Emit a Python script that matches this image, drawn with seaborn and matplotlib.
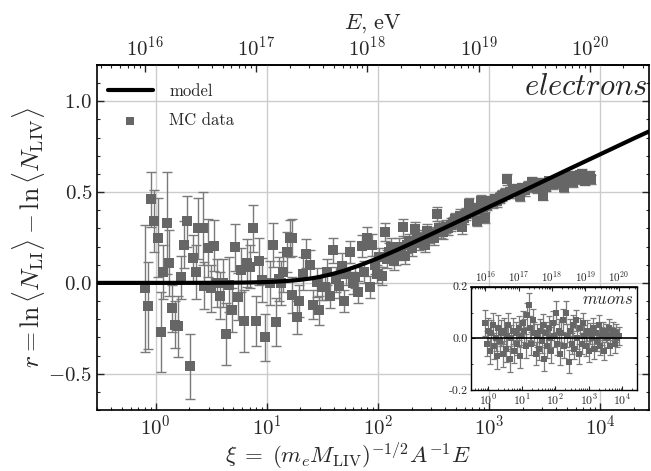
import matplotlib
matplotlib.use("Agg")
import matplotlib.pyplot as plt
import numpy as np
import pandas as pd
import seaborn as sns
from matplotlib.ticker import LogLocator, MultipleLocator, FuncFormatter, NullFormatter, FixedLocator

# ---------------- data ----------------
E_PER_XI = 1.25e16  # E [eV] corresponding to xi = 1
E_TICKS = [1e16, 1e17, 1e18, 1e19, 1e20]

MODEL_XI = [0.3, 1, 3, 5, 7, 10, 15, 20, 25, 30, 40, 50, 70, 100, 150, 200, 300, 500,
            700, 1000, 2000, 3000, 5000, 10000, 20000, 27300]
MODEL_R = [0.0, 0.0, 0.0004, 0.0012, 0.0023, 0.0047, 0.0101, 0.017, 0.0248, 0.033, 0.051,
           0.068, 0.099, 0.136, 0.183, 0.218, 0.268, 0.332, 0.374, 0.419, 0.506, 0.557,
           0.622, 0.709, 0.796, 0.834]

EL_XI = [0.81, 0.86, 0.91, 0.97, 1.04, 1.11, 1.17, 1.26, 1.33, 1.41,
         1.49, 1.60, 1.69, 1.81, 1.92, 2.03, 2.18, 2.30, 2.42, 2.65,
         2.73, 2.93, 3.14, 3.36, 3.58, 3.78, 4.05, 4.29, 4.59, 4.88,
         5.17, 5.53, 5.85, 6.23, 6.57, 7.05, 7.55, 7.97, 8.50, 9.10,
         9.64, 10.6, 11.4, 12.2, 12.9, 13.5, 14.0, 15.1, 16.0,
         16.7, 17.0, 18.5, 19.5, 21.3, 22.7, 24.4, 26.0, 28.0, 29.5,
         31.1, 33.0, 35.0, 37.0, 39.5, 42.0, 45.0, 47.0, 49.0, 52.0,
         55.7, 59.0, 62.0, 66.0, 71.0, 75.0, 79.0, 84.0, 88.0, 93.0,
         98.0, 103, 108, 115, 121, 126, 132, 138, 145,
         155, 162, 168, 174, 181, 190, 200, 214, 222, 235,
         250, 262, 273, 290, 305, 320, 336, 350, 368, 385,
         405, 425, 450, 472, 495, 520, 545, 565, 590, 615,
         651, 700, 735, 770, 810, 851, 880, 914, 950, 1000,
         1080, 1120, 1180, 1240, 1300, 1380, 1440, 1530, 1650, 1750,
         1870, 1980, 2100, 2250, 2410, 2550, 2700, 2880, 3070, 3250,
         3450, 3760, 3950, 4200, 4450, 4650, 4900, 5200, 5450, 5700,
         6000, 6250, 6520, 6800, 7000, 7230, 7600, 8000, 8300]
EL_R = [-0.03, -0.125, 0.46, 0.34, 0.25, -0.27, 0.06, 0.33, 0.11, -0.14,
        -0.23, -0.24, 0.03, 0.21, 0.34, -0.46, 0.135, 0.06, 0.30, 0.30,
        -0.015, 0.19, -0.03, 0.205, 0.0, -0.07, 0.0, -0.28, -0.01, -0.15,
        0.195, -0.075, 0.07, -0.21, 0.11, 0.09, 0.30, -0.21, 0.12, 0.015,
        -0.30, 0.0, 0.21, -0.215, 0.02, 0.0, 0.06, 0.17, 0.245,
        0.25, -0.066, -0.19, -0.10, 0.05, 0.16, 0.10, -0.12, 0.004, -0.15,
        -0.024, -0.024, 0.06, -0.07, 0.18, 0.02, -0.015, 0.095, -0.10, 0.05,
        0.17, 0.0, 0.03, -0.05, 0.205, 0.06, 0.25, -0.024, 0.21, 0.10,
        0.05, 0.14, 0.04, 0.28, 0.13, 0.17, 0.196, 0.12, 0.15,
        0.20, 0.17, 0.306, 0.15, 0.21, 0.23, 0.19, 0.297, 0.24, 0.22,
        0.25, 0.21, 0.287, 0.26, 0.27, 0.25, 0.38, 0.30, 0.29, 0.28,
        0.31, 0.30, 0.32, 0.33, 0.35, 0.34, 0.37, 0.306, 0.36, 0.38,
        0.434, 0.39, 0.41, 0.342, 0.40, 0.452, 0.42, 0.36, 0.43, 0.45,
        0.443, 0.46, 0.45, 0.47, 0.48, 0.49, 0.571, 0.50, 0.516, 0.50,
        0.48, 0.52, 0.51, 0.53, 0.553, 0.54, 0.52, 0.55, 0.48, 0.53,
        0.56, 0.544, 0.55, 0.57, 0.56, 0.526, 0.58, 0.56, 0.59, 0.553,
        0.57, 0.58, 0.593, 0.60, 0.59, 0.562, 0.58, 0.59, 0.571]
EL_ERR = [0.35, 0.24, 0.15, 0.17, 0.22, 0.22, 0.15, 0.28, 0.18, 0.13,
          0.13, 0.17, 0.12, 0.13, 0.14, 0.18, 0.13, 0.15, 0.17, 0.20,
          0.13, 0.16, 0.13, 0.14, 0.13, 0.13, 0.13, 0.17, 0.15, 0.12,
          0.13, 0.13, 0.12, 0.17, 0.13, 0.12, 0.13, 0.14, 0.13, 0.12,
          0.13, 0.12, 0.12, 0.13, 0.12, 0.12, 0.11, 0.11, 0.10,
          0.10, 0.10, 0.09, 0.09, 0.09, 0.08, 0.08, 0.08, 0.08, 0.08,
          0.07, 0.07, 0.07, 0.07, 0.07, 0.07, 0.07, 0.07, 0.06, 0.06,
          0.06, 0.06, 0.06, 0.06, 0.06, 0.06, 0.06, 0.06, 0.06, 0.05,
          0.05, 0.05, 0.05, 0.05, 0.05, 0.05, 0.05, 0.05, 0.05,
          0.045, 0.045, 0.045, 0.045, 0.045, 0.04, 0.04, 0.04, 0.04, 0.04,
          0.04, 0.04, 0.04, 0.04, 0.04, 0.04, 0.04, 0.04, 0.04, 0.04,
          0.035, 0.035, 0.035, 0.035, 0.035, 0.035, 0.035, 0.035, 0.035, 0.035,
          0.035, 0.03, 0.03, 0.03, 0.03, 0.03, 0.03, 0.03, 0.03, 0.03,
          0.03, 0.03, 0.03, 0.03, 0.03, 0.03, 0.03, 0.03, 0.03, 0.03,
          0.03, 0.03, 0.03, 0.03, 0.03, 0.025, 0.025, 0.025, 0.025, 0.025,
          0.025, 0.025, 0.025, 0.025, 0.025, 0.025, 0.025, 0.025, 0.025, 0.025,
          0.025, 0.025, 0.025, 0.025, 0.025, 0.025, 0.025, 0.025, 0.025]

MU_XI = [0.8, 0.9, 1.0, 1.1, 1.2, 1.35, 1.5, 1.65, 1.8, 2.0,
         2.2, 2.45, 2.7, 3.0, 3.3, 3.65, 4.0, 4.4, 4.9, 5.4,
         6.0, 6.6, 7.3, 8.0, 8.9, 9.8, 10.8, 12, 13.2, 14.6,
         16, 17.7, 19.5, 21.5, 23.7, 26, 29, 32, 35, 39,
         43, 47, 52, 58, 64, 70, 77, 85, 94, 104,
         115, 127, 140, 154, 170, 188, 207, 229, 252, 278,
         307, 339, 374, 413, 456, 503, 555, 612, 676, 746,
         823, 909, 1000, 1110, 1220, 1350, 1490, 1640, 1810, 2000,
         2210, 2440, 2690, 2970, 3280, 3620, 4000, 4410, 4870, 5370,
         5930, 6550, 7230, 7980]
MU_R = [0.06, -0.02, 0.03, -0.05, 0.02, 0.05, -0.03, 0.0, -0.07, 0.04,
        -0.01, 0.02, -0.06, 0.03, -0.04, 0.01, 0.05, -0.08, 0.0, 0.03,
        -0.05, 0.02, -0.02, 0.04, -0.07, 0.01, 0.06, 0.03, -0.03, 0.09,
        0.13, 0.04, -0.02, 0.07, 0.02, -0.06, 0.01, -0.04, 0.03, -0.01,
        0.05, -0.08, 0.02, -0.03, 0.04, 0.0, -0.05, 0.06, 0.01, 0.10,
        -0.02, 0.03, -0.06, 0.02, 0.07, -0.03, 0.10, 0.01, -0.09, 0.03,
        -0.02, 0.05, -0.04, 0.07, 0.0, -0.06, 0.04, -0.02, 0.06, 0.01,
        -0.03, 0.03, -0.05, 0.02, 0.0, 0.04, -0.04, 0.02, -0.01, 0.05,
        -0.03, 0.01, 0.03, -0.05, 0.02, 0.0, 0.04, -0.03, 0.01, 0.03,
        -0.02, 0.02, 0.0, 0.01]
MU_ERR = [0.05, 0.05, 0.05, 0.05, 0.05, 0.05, 0.05, 0.05, 0.05, 0.05,
          0.05, 0.05, 0.05, 0.05, 0.05, 0.05, 0.05, 0.05, 0.05, 0.05,
          0.045, 0.045, 0.045, 0.045, 0.045, 0.045, 0.045, 0.045, 0.045, 0.045,
          0.045, 0.045, 0.045, 0.045, 0.045, 0.045, 0.045, 0.045, 0.045, 0.045,
          0.045, 0.045, 0.045, 0.045, 0.045, 0.045, 0.045, 0.045, 0.045, 0.045,
          0.045, 0.045, 0.045, 0.045, 0.045, 0.045, 0.045, 0.045, 0.045, 0.045,
          0.04, 0.04, 0.04, 0.04, 0.04, 0.04, 0.04, 0.04, 0.04, 0.04,
          0.04, 0.04, 0.04, 0.04, 0.04, 0.04, 0.04, 0.04, 0.04, 0.04,
          0.035, 0.035, 0.035, 0.035, 0.035, 0.035, 0.035, 0.035, 0.035, 0.035,
          0.035, 0.035, 0.035, 0.035]

# ---------------- style ----------------
sns.set_style("ticks")
plt.rcParams.update({
    "font.family": ["cmr10"],
    "mathtext.fontset": "cm",
    "axes.formatter.use_mathtext": True,
    "axes.edgecolor": "black",
    "axes.linewidth": 1.2,
})

DATA_COLOR = "#666666"
ERR_COLOR = "#7a7a7a"

df_model = pd.DataFrame({"xi": MODEL_XI, "r": MODEL_R})
df_el = pd.DataFrame({"xi": EL_XI, "r": EL_R, "err": EL_ERR})
df_mu = pd.DataFrame({"xi": MU_XI, "r": MU_R, "err": MU_ERR})

to_E = (lambda x: x * E_PER_XI, lambda e: e / E_PER_XI)

fig = plt.figure(figsize=(6.51, 4.71), dpi=100)
ax = fig.add_axes([97 / 651, 1 - 410 / 471, (649 - 97) / 651, (410 - 65) / 471])
ax.set_xscale("log")

ax.errorbar(df_el["xi"], df_el["r"], yerr=df_el["err"], fmt="none", ecolor=ERR_COLOR,
            elinewidth=1.0, capsize=3.3, capthick=1.0, zorder=2)
sns.scatterplot(data=df_el, x="xi", y="r", marker="s", s=42, color=DATA_COLOR,
                linewidth=0, ax=ax, zorder=3, label="MC data")
sns.lineplot(data=df_model, x="xi", y="r", color="black", lw=3, ax=ax, zorder=4,
             label="model")

ax.set_xlim(0.297, 2.73e4)
ax.set_ylim(-0.7, 1.2)
ax.grid(True, which="major", color="#cccccc", lw=1.0, zorder=0)
ax.set_axisbelow(True)

ax.xaxis.set_major_locator(LogLocator(base=10, numticks=20))
ax.xaxis.set_minor_locator(LogLocator(base=10, subs=np.arange(2, 10), numticks=20))
ax.xaxis.set_minor_formatter(NullFormatter())
ax.yaxis.set_major_locator(MultipleLocator(0.5))
ax.yaxis.set_minor_locator(MultipleLocator(0.1))
ax.yaxis.set_major_formatter(FuncFormatter(lambda v, p: r"$%.1f$" % v if abs(v) > 1e-9 else r"$0.0$"))
ax.tick_params(which="both", direction="in", top=False, right=True, labelsize=15)
ax.tick_params(which="major", length=5, width=1)
ax.tick_params(which="minor", length=2.5, width=0.8)

ax.set_xlabel(r"$\xi\;=\;(m_e M_{\rm LIV})^{-1/2} A^{-1} E$", fontsize=16.5, labelpad=1)
ax.xaxis.label.set_x(0.455)
ax.set_ylabel(r"$r = \ln\langle N_{\rm LI}\rangle - \ln\langle N_{\rm LIV}\rangle$", fontsize=18.5, labelpad=1)

secax = ax.secondary_xaxis("top", functions=to_E)
secax.xaxis.set_major_locator(FixedLocator(E_TICKS))
secax.xaxis.set_minor_locator(LogLocator(base=10, subs=np.arange(2, 10), numticks=20))
secax.xaxis.set_minor_formatter(NullFormatter())
secax.tick_params(which="both", direction="in", labelsize=15)
secax.tick_params(which="major", length=5, width=1)
secax.tick_params(which="minor", length=2.5, width=0.8)
secax.set_xlabel(r"$E$, eV", fontsize=16, labelpad=5)

handles, labels = ax.get_legend_handles_labels()
hmap = dict(zip(labels, handles))
ax.legend([hmap["model"], hmap["MC data"]], ["model", "MC data"], loc="upper left",
          bbox_to_anchor=(-0.005, 0.985), frameon=False, fontsize=12, handlelength=2.7,
          handletextpad=1.0, labelspacing=0.85, borderaxespad=0.4, markerscale=0.9)

ax.text(0.998, 0.975, r"$electrons$", transform=ax.transAxes, ha="right", va="top",
        fontsize=22)

# ---------------- inset: muons ----------------
axi = fig.add_axes([470.7 / 651, 1 - 390 / 471, 166 / 651, 103.3 / 471])
axi.set_xscale("log")
axi.set_facecolor("white")
axi.errorbar(df_mu["xi"], df_mu["r"], yerr=df_mu["err"], fmt="none", ecolor=ERR_COLOR,
             elinewidth=0.9, capsize=2.2, capthick=0.9, zorder=2)
sns.scatterplot(data=df_mu, x="xi", y="r", marker="s", s=15, color=DATA_COLOR,
                linewidth=0, ax=axi, zorder=3, legend=False)
sns.lineplot(x=[MODEL_XI[0], MODEL_XI[-1]], y=[0.0, 0.0], color="black", lw=1.2, ax=axi,
             zorder=4)
axi.set_xlim(0.297, 2.73e4)
axi.set_ylim(-0.2, 0.2)
axi.set_xlabel("")
axi.set_ylabel("")
axi.xaxis.set_major_locator(LogLocator(base=10, numticks=20))
axi.xaxis.set_minor_locator(LogLocator(base=10, subs=np.arange(2, 10), numticks=20))
axi.xaxis.set_minor_formatter(NullFormatter())
axi.yaxis.set_major_locator(FixedLocator([-0.2, 0.0, 0.2]))
axi.yaxis.set_minor_locator(MultipleLocator(0.1))
axi.yaxis.set_major_formatter(FuncFormatter(lambda v, p: "%.1f" % v if abs(v) > 1e-9 else "0.0"))
axi.tick_params(which="both", direction="in", top=False, right=True, labelsize=8.5, pad=2)
axi.tick_params(which="major", length=3, width=0.8)
axi.tick_params(which="minor", length=1.5, width=0.6)
for sp in axi.spines.values():
    sp.set_linewidth(1.0)
axi.text(0.98, 0.95, r"$muons$", transform=axi.transAxes, ha="right", va="top", fontsize=12)

secai = axi.secondary_xaxis("top", functions=to_E)
secai.xaxis.set_major_locator(FixedLocator(E_TICKS))
secai.xaxis.set_minor_locator(LogLocator(base=10, subs=np.arange(2, 10), numticks=20))
secai.xaxis.set_minor_formatter(NullFormatter())
secai.tick_params(which="both", direction="in", labelsize=8, pad=2)
secai.tick_params(which="major", length=3, width=0.8)
secai.tick_params(which="minor", length=1.5, width=0.6)

fig.savefig("out.png", dpi=100)
